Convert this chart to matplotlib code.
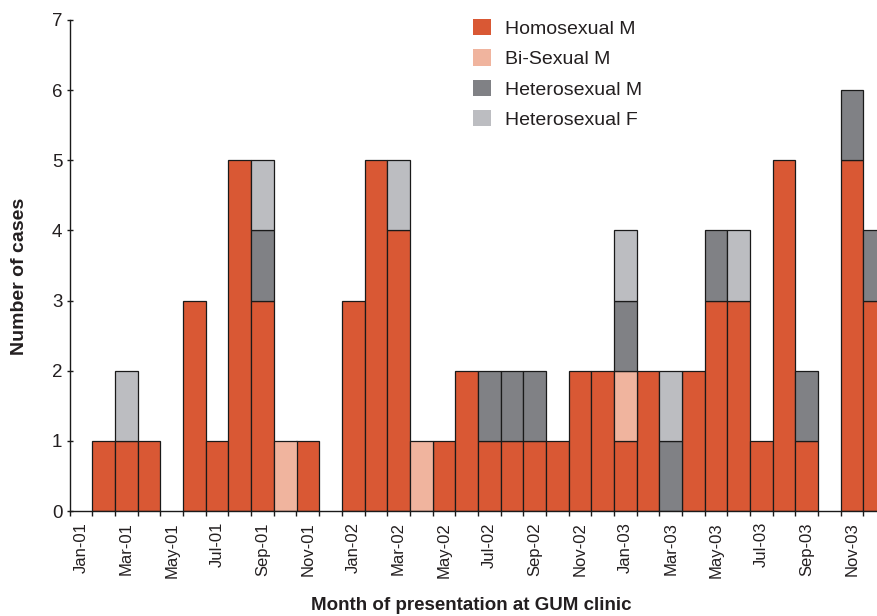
import matplotlib
matplotlib.use("Agg")
import matplotlib.pyplot as plt
import numpy as np
from matplotlib.patches import Patch

plt.rcParams['font.family'] = ['Liberation Sans', 'DejaVu Sans']

months = ["Jan-01", "Feb-01", "Mar-01", "Apr-01", "May-01", "Jun-01", "Jul-01", "Aug-01",
          "Sep-01", "Oct-01", "Nov-01", "Dec-01",
          "Jan-02", "Feb-02", "Mar-02", "Apr-02", "May-02", "Jun-02", "Jul-02", "Aug-02",
          "Sep-02", "Oct-02", "Nov-02", "Dec-02",
          "Jan-03", "Feb-03", "Mar-03", "Apr-03", "May-03", "Jun-03", "Jul-03", "Aug-03",
          "Sep-03", "Oct-03", "Nov-03", "Dec-03"]
homosexual_m = [0, 1, 1, 1, 0, 3, 1, 5, 3, 0, 1, 0,
                3, 5, 4, 0, 1, 2, 1, 1, 1, 1, 2, 2,
                1, 2, 0, 2, 3, 3, 1, 5, 1, 0, 5, 3]
bisexual_m = [0, 0, 0, 0, 0, 0, 0, 0, 0, 1, 0, 0,
              0, 0, 0, 1, 0, 0, 0, 0, 0, 0, 0, 0,
              1, 0, 0, 0, 0, 0, 0, 0, 0, 0, 0, 0]
heterosexual_m = [0, 0, 0, 0, 0, 0, 0, 0, 1, 0, 0, 0,
                  0, 0, 0, 0, 0, 0, 1, 1, 1, 0, 0, 0,
                  1, 0, 1, 0, 1, 0, 0, 0, 1, 0, 1, 1]
heterosexual_f = [0, 0, 1, 0, 0, 0, 0, 0, 1, 0, 0, 0,
                  0, 0, 1, 0, 0, 0, 0, 0, 0, 0, 0, 0,
                  1, 0, 1, 0, 0, 1, 0, 0, 0, 0, 0, 0]
series_names = ["Homosexual M", "Bi-Sexual M", "Heterosexual M", "Heterosexual F"]
colors = ["#D95834", "#F0B49E", "#808185", "#BCBDC1"]

W, H = 877, 616
fig = plt.figure(figsize=(W / 100, H / 100), dpi=100)
slot = 22.68
ax = fig.add_axes([69.7 / W, 105 / H, 36 * slot / W, 491 / H])

x = np.arange(len(months))
bottom = np.zeros(len(months))
handles = []
for vals, name, c in zip([homosexual_m, bisexual_m, heterosexual_m, heterosexual_f],
                         series_names, colors):
    v = np.array(vals, dtype=float)
    mask = v > 0
    ax.bar(x[mask], v[mask], width=1.0, bottom=bottom[mask], color=c,
           edgecolor="#1a1a1a", linewidth=0.9, zorder=2)
    bottom += v
    handles.append(Patch(facecolor=c, edgecolor="none", label=name))

ax.set_xlim(-0.5, 35.5)
ax.set_ylim(0, 7)
for s in ["top", "right"]:
    ax.spines[s].set_visible(False)
for s in ["left", "bottom"]:
    ax.spines[s].set_linewidth(1.0)
    ax.spines[s].set_color("#1a1a1a")

ax.set_xticks(np.arange(-0.5, 36, 1.0))
ax.set_xticklabels([])
ax.tick_params(axis="x", which="major", direction="out", length=3.8, width=1.0, color="#1a1a1a")
ax.set_xticks(x[::2], minor=True)
ax.set_xticklabels(months[::2], minor=True, rotation=90, fontsize=12, color="#231f20")
ax.tick_params(axis="x", which="minor", length=0, pad=8)

ax.set_yticks(range(0, 8))
ax.tick_params(axis="y", direction="inout", length=4.5, width=1.0, color="#1a1a1a",
               labelsize=13.5, labelcolor="#231f20", pad=3)

fig.text(471 / W, 1 - 606 / H, "Month of presentation at GUM clinic", ha="center", va="center",
         fontsize=13.5, fontweight="bold", color="#231f20")
fig.text(20 / W, 1 - 276 / H, "Number of cases", ha="center", va="center", rotation=90,
         fontsize=14, fontweight="bold", color="#231f20")

ax.legend(handles=handles, loc="upper left", bbox_to_anchor=(473 / W, 1 - 19 / H),
          bbox_transform=fig.transFigure, frameon=False, fontsize=14,
          handlelength=0.9, handleheight=0.9, handletextpad=0.75, labelspacing=0.6,
          borderpad=0, borderaxespad=0, labelcolor="#231f20")

fig.savefig("out.png", dpi=100)
